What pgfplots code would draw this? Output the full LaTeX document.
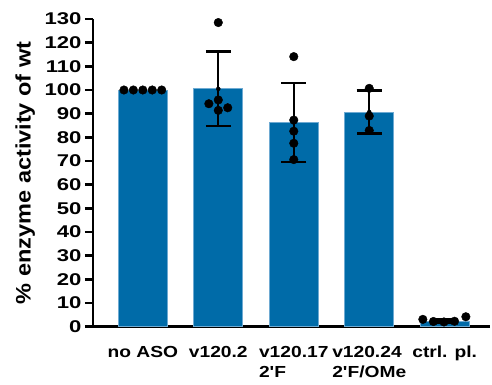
\documentclass[border=0pt]{standalone}
\usepackage{fontspec}
\setmainfont{Liberation Sans}
\newfontfamily\tickf[FakeStretch=1.3]{Liberation Sans}
\newfontfamily\xlabf[FakeStretch=1.2]{Liberation Sans}
\newfontfamily\ylabf[FakeStretch=1.12]{Liberation Sans}
\usepackage{pgfplots}
\pgfplotsset{compat=1.18}
\definecolor{barblue}{RGB}{0,107,168}
\definecolor{edgeblue}{RGB}{110,170,210}
\begin{document}
\begin{tikzpicture}
\begin{axis}[
  at={(0pt,0pt)}, anchor=south west,
  scale only axis, width=397pt, height=307.7pt,
  xmin=-0.66, xmax=4.6, ymin=0, ymax=130,
  axis lines=left, axis line style={line width=2.6pt, -},
  ytick={0,10,...,130}, tick align=outside, major tick length=8pt,
  y tick style={line width=2.4pt, black},
  xtick={0,1,2,3,4},
  xticklabels={no ASO, v120.2, {v120.17\\2'F}, {v120.24\\2'F/OMe}, ctrl. pl.},
  x tick style={draw=none},
  /pgf/number format/assume math mode=true,
  yticklabel style={font=\tickf\bfseries\fontsize{17pt}{20pt}\selectfont},
  xticklabel style={font=\xlabf\bfseries\fontsize{16pt}{20.5pt}\selectfont, align=left, anchor=north, yshift=-8pt},
  ylabel={\% enzyme activity of wt},
  ylabel style={font=\ylabf\bfseries\fontsize{21pt}{24pt}\selectfont, at={(axis description cs:-0.171,0.5)}, anchor=center},
  clip=false,
]
\addplot[ybar, bar width=49pt, fill=barblue, draw=edgeblue, line width=0.8pt]
  coordinates {(0,100) (1,100.5) (2,86.3) (3,90.7) (4,2.2)};
\addplot[only marks, mark=none, draw=black,
  error bars/.cd, y dir=both, y explicit,
  error bar style={line width=2.4pt, black},
  error mark options={rotate=90, mark size=12.5pt, line width=2.4pt, black}]
  coordinates {(1,100.5) += (0,15.8) -= (0,15.6)
               (2,86.3) +- (0,16.7)
               (3,90.7) +- (0,9.1)
               (4,2.4) +- (0,0.6)};
\addplot[only marks, mark=*, mark size=4.3pt, black]
  coordinates {(-0.25,100) (-0.125,100) (0,100) (0.125,100) (0.25,100)
               (1,128.5) (1,95.8) (0.875,94.2) (1.125,92.5) (1,91.4)
               (2,114.1) (2,87.3) (2,82.6) (2,77.5) (2,70.6)
               (3,100.7) (3,89.0) (3,82.9)
               (3.71,3.1) (3.85,2.2) (3.99,2.0) (4.13,2.3) (4.28,4.2)};
\end{axis}
\pgfresetboundingbox
\useasboundingbox (-93pt,-58.3pt) rectangle (399pt,326.7pt);
\end{tikzpicture}
\end{document}
